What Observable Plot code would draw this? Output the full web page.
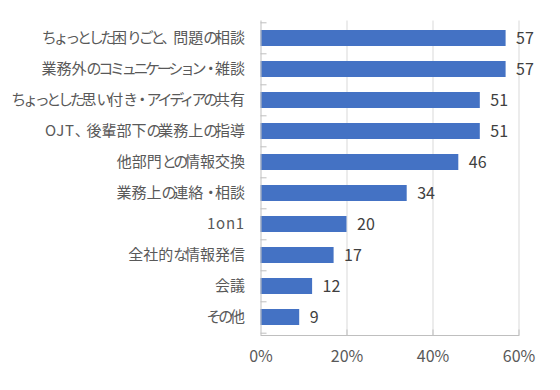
<!DOCTYPE html>
<html><head><meta charset="utf-8">
<script src="https://cdn.jsdelivr.net/npm/d3@7"></script>
<script src="https://cdn.jsdelivr.net/npm/@observablehq/plot@0.6"></script>
<style>
html,body{margin:0;padding:0;background:#fff;}
</style>
</head><body>
<div id="chart"></div>
<script>
const categories = [
  "ちょっとした困りごと、問題の相談",
  "業務外のコミュニケーション・雑談",
  "ちょっとした思い付き・アイディアの共有",
  "OJT、後輩部下の業務上の指導",
  "他部門との情報交換",
  "業務上の連絡・相談",
  "1on1",
  "全社的な情報発信",
  "会議",
  "その他"
];
const values = [57, 57, 51, 51, 46, 34, 20, 17, 12, 9];
const xTicks = [0, 20, 40, 60];

const data = categories.map((c, i) => ({category: c, value: values[i]}));
const font = "'Noto Sans CJK JP', 'Noto Sans', sans-serif";

const chart = Plot.plot({
  width: 560,
  height: 390,
  marginLeft: 260.5,
  marginRight: 41.5,
  marginTop: 20.5,
  marginBottom: 55,
  style: {fontFamily: font, background: "#fff"},
  x: {domain: [0, 60], ticks: xTicks},
  y: {domain: categories, paddingInner: 0.49, paddingOuter: 0.245, align: 0.5},
  marks: [
    Plot.gridX(xTicks.slice(1), {stroke: "#d9d9d9", strokeOpacity: 1}),
    Plot.barX(data, {x: "value", y: "category", fill: "#4472c4"}),
    Plot.ruleX([0], {stroke: "#bfbfbf"}),
    Plot.frame({anchor: "bottom", stroke: "#bfbfbf"}),
    Plot.ruleY(categories, {y: d => d, x1: 0, x2: 1.4, dy: -15.7, stroke: "#bfbfbf"}),
    Plot.ruleY(categories.slice(-1), {y: d => d, x1: 0, x2: 1.4, dy: 15.7, stroke: "#bfbfbf"}),
    Plot.tickX(xTicks.slice(1), {x: d => d, stroke: "#bfbfbf", insetTop: 309}),
    Plot.axisY({tickSize: 0, tickPadding: 16, fontSize: 15, color: "#595959", label: null}),
    Plot.axisX({ticks: xTicks, tickSize: 0, tickPadding: 15, fontSize: 16, color: "#595959", tickFormat: d => d + "%", label: null}),
    Plot.text(data, {x: "value", y: "category", text: d => String(d.value), dx: 10, textAnchor: "start", fontSize: 16, fill: "#404040"})
  ]
});
document.getElementById("chart").appendChild(chart);

// Emulate the narrow kana / wide Latin of the original UI font
const kana = /[\u3000-\u30ff\uff00-\uffef]/;
const latin = /[\x00-\x7f]/;
d3.select(chart).selectAll('g[aria-label="y-axis tick label"] text').each(function() {
  const el = d3.select(this);
  const s = this.textContent;
  el.text(null);
  let runs = [];
  for (const ch of s) {
    const t = kana.test(ch) ? "k" : latin.test(ch) ? "l" : "h";
    if (runs.length && runs[runs.length - 1].t === t) runs[runs.length - 1].s += ch;
    else runs.push({t, s: ch});
  }
  for (const r of runs) {
    el.append("tspan")
      .attr("letter-spacing", r.t === "k" ? "-3.3px" : r.t === "l" ? "0.8px" : "0px")
      .text(r.s);
  }
});
</script>
</body></html>
